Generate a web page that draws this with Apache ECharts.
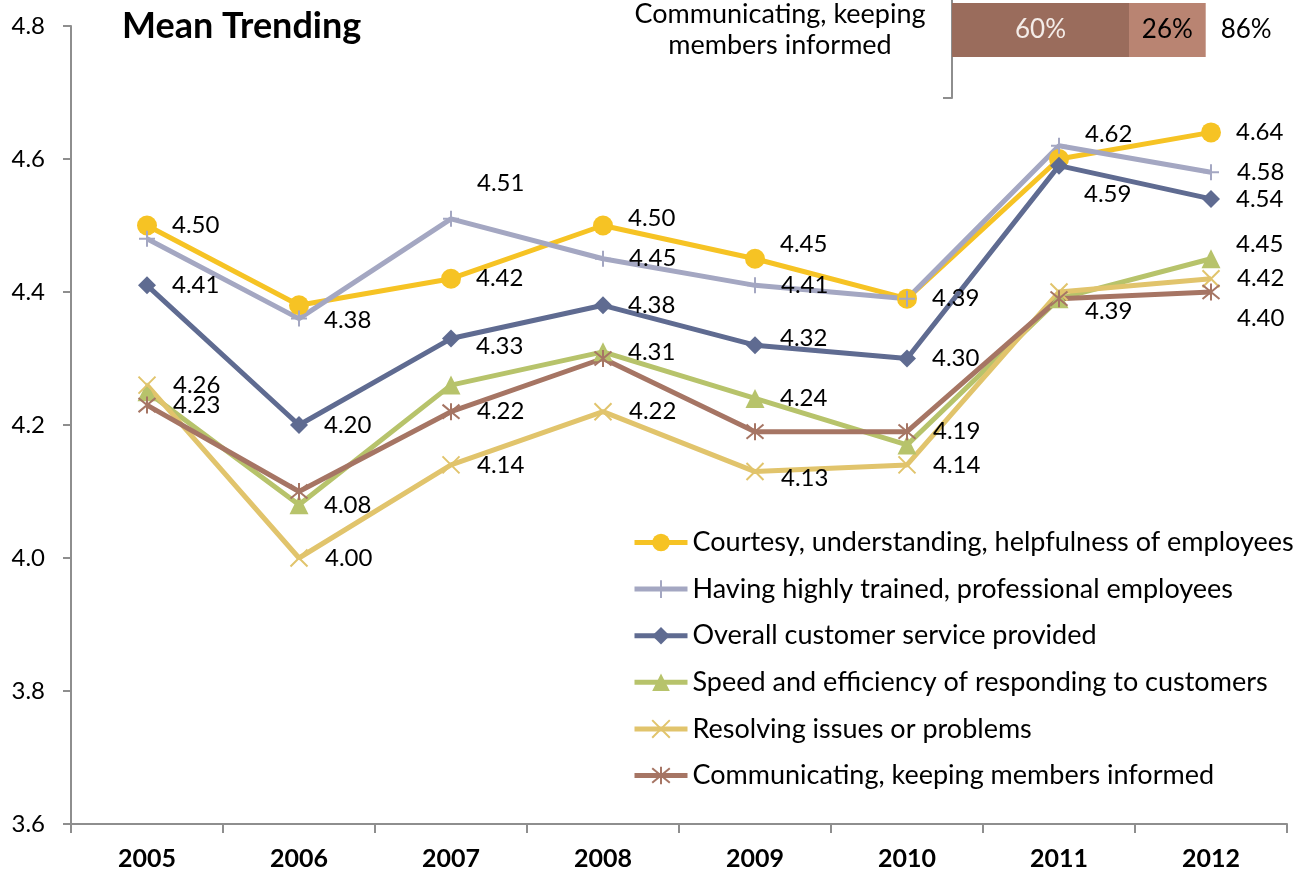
<!DOCTYPE html>
<html>
<head>
<meta charset="utf-8">
<title>Mean Trending</title>
<script src="https://cdn.jsdelivr.net/npm/echarts@6/dist/echarts.min.js"></script>
<style>
  html, body { margin: 0; padding: 0; background: #ffffff; }
  #chart { width: 1304px; height: 876px; }
</style>
</head>
<body>
<div id="chart"></div>
<script>
// Survey years on the category axis
const years = ['2005', '2006', '2007', '2008', '2009', '2010', '2011', '2012'];

// Mean scores per attribute
const courtesy      = [4.50, 4.38, 4.42, 4.50, 4.45, 4.39, 4.60, 4.64];
const trained       = [4.48, 4.36, 4.51, 4.45, 4.41, 4.39, 4.62, 4.58];
const overall       = [4.41, 4.20, 4.33, 4.38, 4.32, 4.30, 4.59, 4.54];
const speed         = [4.25, 4.08, 4.26, 4.31, 4.24, 4.17, 4.39, 4.45];
const resolving     = [4.26, 4.00, 4.14, 4.22, 4.13, 4.14, 4.40, 4.42];
const communicating = [4.23, 4.10, 4.22, 4.30, 4.19, 4.19, 4.39, 4.40];

// Y axis range
const yMin = 3.6, yMax = 4.8, yStep = 0.2;

// Stacked percentage bar shown at the top right
const barCategory = ['Communicating, keeping\nmembers informed'];
const barTop      = [60];
const barSecond   = [26];
const barTotal    = [86];

const FONT = 'Lato, "Open Sans", sans-serif';

// Which points carry a value label, and the vertical nudge for each one
const labelNudges = {
  courtesy:      { 0: 0, 1: 15, 2: 0, 3: -7, 4: -14, 5: 0, 7: 0 },
  trained:       { 2: -36, 3: 0, 4: 0, 6: -11, 7: 0 },
  overall:       { 0: 0, 1: 0, 2: 8, 3: 0, 4: -7, 5: 0, 6: 29, 7: 0 },
  speed:         { 1: 0, 3: 0, 4: 0, 7: -14 },
  resolving:     { 0: 0, 1: 0, 2: 0, 3: 0, 4: 7, 5: 0, 7: 0 },
  communicating: { 0: 0, 2: 0, 5: 0, 6: 13, 7: 26 }
};

const PLUS  = 'path://M5,0L5,10M0,5L10,5';
const CROSS = 'path://M0,0L10,10M10,0L0,10';
const STAR  = 'path://M0,0L10,10M10,0L0,10M5,-1L5,11';

function lineSeries(name, key, values, color, symbol, size, stroked) {
  const nudges = labelNudges[key];
  const data = values.map((v, i) => {
    if (nudges[i] === undefined) return { value: v, label: { show: false } };
    return { value: v, label: { show: true, offset: [0, nudges[i]] } };
  });
  return {
    name: name,
    type: 'line',
    data: data,
    symbol: symbol,
    symbolSize: size,
    showAllSymbol: true,
    lineStyle: { color: color, width: 5 },
    itemStyle: stroked
      ? { color: color, borderColor: color, borderWidth: 2 }
      : { color: color, borderWidth: 0 },
    label: {
      position: 'right',
      distance: 25 - size / 2,
      fontSize: 24,
      fontFamily: FONT,
      color: '#000',
      formatter: p => p.value.toFixed(2)
    },
    emphasis: { disabled: true },
    animation: false,
    xAxisIndex: 0,
    yAxisIndex: 0
  };
}

const axisGrey = '#8E8E8E';

const option = {
  backgroundColor: '#ffffff',
  animation: false,
  title: {
    text: 'Mean Trending',
    left: 122,
    top: 8,
    padding: 0,
    textStyle: { fontFamily: FONT, fontSize: 36, fontWeight: 'bold', color: '#000' }
  },
  legend: {
    orient: 'vertical',
    left: 632,
    top: 529,
    padding: 0,
    itemWidth: 53,
    itemHeight: 22,
    itemGap: 19.6,
    lineStyle: { width: 5 },
    textStyle: { fontFamily: FONT, fontSize: 27, color: '#000' },
    data: [
      'Courtesy, understanding, helpfulness of employees',
      'Having highly trained, professional employees',
      'Overall customer service provided',
      'Speed and efficiency of responding to customers',
      'Resolving issues or problems',
      'Communicating, keeping members informed'
    ]
  },
  grid: [
    { left: 71, top: 26, width: 1216, bottom: 52, outerBoundsMode: 'none' },
    { left: 952, top: -38, width: 295, height: 136, outerBoundsMode: 'none' }
  ],
  xAxis: [
    {
      type: 'category',
      gridIndex: 0,
      data: years,
      boundaryGap: true,
      axisLine: { lineStyle: { color: axisGrey, width: 2 } },
      axisTick: { show: true, length: 9, lineStyle: { color: axisGrey, width: 2 } },
      axisLabel: { fontFamily: FONT, fontSize: 25, fontWeight: 'bold', color: '#000', margin: 22 },
      splitLine: { show: false }
    },
    {
      type: 'value',
      gridIndex: 1,
      min: 0,
      max: 100,
      show: false
    }
  ],
  yAxis: [
    {
      type: 'value',
      gridIndex: 0,
      min: yMin,
      max: yMax,
      interval: yStep,
      axisLine: { show: true, lineStyle: { color: axisGrey, width: 2 } },
      axisTick: { show: true, length: 8, lineStyle: { color: axisGrey, width: 2 } },
      axisLabel: {
        fontFamily: FONT, fontSize: 24, color: '#000', margin: 26,
        formatter: v => v.toFixed(1)
      },
      splitLine: { show: false }
    },
    {
      type: 'category',
      gridIndex: 1,
      data: barCategory,
      axisLine: { show: true, lineStyle: { color: axisGrey, width: 2 } },
      axisTick: { show: true, length: 9, lineStyle: { color: axisGrey, width: 2 } },
      axisLabel: {
        fontFamily: FONT, fontSize: 27, color: '#000',
        align: 'center', margin: 172, lineHeight: 31
      }
    }
  ],
  series: [
    lineSeries('Courtesy, understanding, helpfulness of employees', 'courtesy', courtesy, '#F6C324', 'circle', 20, false),
    lineSeries('Having highly trained, professional employees', 'trained', trained, '#A4A7C2', PLUS, 16, true),
    lineSeries('Overall customer service provided', 'overall', overall, '#5F6B91', 'diamond', 18, false),
    lineSeries('Speed and efficiency of responding to customers', 'speed', speed, '#B7C36B', 'triangle', 19, false),
    lineSeries('Resolving issues or problems', 'resolving', resolving, '#E1C46C', CROSS, 17, true),
    lineSeries('Communicating, keeping members informed', 'communicating', communicating, '#A67564', STAR, 17, true),
    {
      type: 'bar',
      xAxisIndex: 1,
      yAxisIndex: 1,
      stack: 'share',
      data: barTop,
      barWidth: 54,
      itemStyle: { color: '#9A6C5C' },
      label: {
        show: true, position: 'inside', fontFamily: FONT, fontSize: 26, color: '#F4ECE8',
        formatter: p => p.value + '%'
      },
      emphasis: { disabled: true },
      animation: false
    },
    {
      type: 'bar',
      xAxisIndex: 1,
      yAxisIndex: 1,
      stack: 'share',
      data: barSecond,
      barWidth: 54,
      itemStyle: { color: '#B98472' },
      label: {
        show: true, position: 'inside', fontFamily: FONT, fontSize: 26, color: '#000',
        formatter: p => p.value + '%'
      },
      emphasis: { disabled: true },
      animation: false
    },
    {
      // zero-length segment that carries the total label at the bar's end
      type: 'bar',
      xAxisIndex: 1,
      yAxisIndex: 1,
      stack: 'share',
      data: barTotal.map(() => 0),
      barWidth: 54,
      itemStyle: { color: 'transparent' },
      label: {
        show: true, position: 'right', distance: 15, fontFamily: FONT, fontSize: 26, color: '#000',
        formatter: p => barTotal[p.dataIndex] + '%'
      },
      emphasis: { disabled: true },
      animation: false
    }
  ]
};

const chart = echarts.init(document.getElementById('chart'), null, { renderer: 'canvas' });
chart.setOption(option);
</script>
</body>
</html>
